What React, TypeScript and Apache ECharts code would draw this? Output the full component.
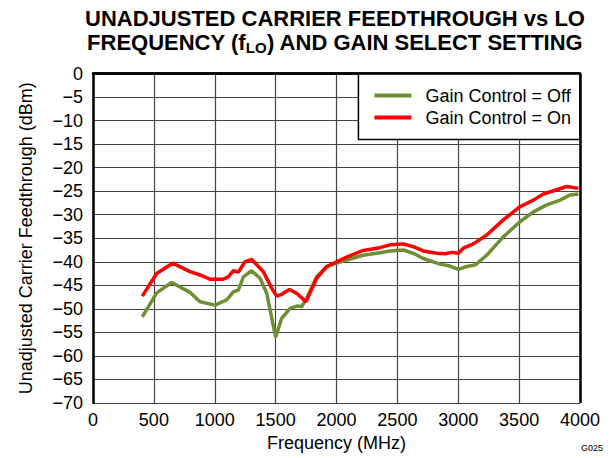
import React, { useEffect, useRef } from "react";
import * as echarts from "echarts";

const freqOff = [405, 523, 646, 797, 879, 1002, 1098, 1153, 1194, 1235, 1303, 1372, 1427, 1500, 1550, 1618, 1673, 1714, 1755, 1837, 1920, 2001, 2111, 2220, 2357, 2439, 2549, 2631, 2713, 2850, 2932, 3001, 3069, 3138, 3234, 3370, 3507, 3617, 3727, 3836, 3918, 3987];
const gainOff = [-51.7, -46.6, -44.4, -46.5, -48.5, -49.2, -48.1, -46.4, -46.0, -43.2, -41.9, -43.5, -46.7, -56.0, -52.0, -49.9, -49.4, -49.5, -47.8, -43.2, -41.0, -40.3, -39.4, -38.6, -38.1, -37.7, -37.5, -38.2, -39.3, -40.5, -40.9, -41.6, -41.0, -40.7, -38.6, -34.7, -31.5, -29.4, -27.9, -26.9, -25.8, -25.6];

const freqOn = [405, 523, 654, 797, 879, 961, 1070, 1111, 1153, 1194, 1248, 1303, 1399, 1467, 1509, 1550, 1613, 1673, 1749, 1837, 1920, 2001, 2083, 2220, 2357, 2439, 2549, 2631, 2713, 2823, 2891, 2946, 3001, 3042, 3124, 3234, 3370, 3507, 3617, 3699, 3809, 3891, 3987];
const gainOn = [-47.3, -42.5, -40.3, -42.1, -42.8, -43.7, -43.7, -43.2, -41.9, -42.2, -40.0, -39.5, -42.1, -45.6, -47.3, -46.9, -45.9, -46.7, -48.5, -43.5, -41.0, -40.0, -39.0, -37.6, -37.0, -36.4, -36.2, -36.8, -37.7, -38.2, -38.3, -38.0, -38.2, -37.1, -36.2, -34.3, -31.1, -28.3, -26.9, -25.6, -24.7, -24.0, -24.4];

const seriesNames = ["Gain Control = Off", "Gain Control = On"];

export default function App() {
  const ref = useRef<HTMLDivElement>(null);
  useEffect(() => {
    if (!ref.current) return;
    const chart = echarts.init(ref.current, null, { renderer: "svg" });
    const font = "Arial, 'Liberation Sans', sans-serif";
    chart.setOption({
      animation: false,
      backgroundColor: "#fff",
      textStyle: { fontFamily: font },
      title: {
        text: "UNADJUSTED CARRIER FEEDTHROUGH vs LO\nFREQUENCY (f{sub|LO}) AND GAIN SELECT SETTING",
        left: 330,
        top: 1,
        textAlign: "center",
        textStyle: {
          fontFamily: font,
          fontSize: 22,
          fontWeight: "bold",
          color: "#000",
          lineHeight: 24.5,
          rich: {
            sub: { fontFamily: font, fontSize: 15, fontWeight: "bold", color: "#000", verticalAlign: "bottom", lineHeight: 24.5, padding: [9, 0, 0, 0] },
          },
        },
      },
      graphic: [
        { type: "text", right: 8, bottom: 6, style: { text: "G025", fontSize: 9, fill: "#000", fontFamily: font } },
      ],
      legend: {
        orient: "vertical",
        right: 31,
        top: 73.5,
        backgroundColor: "#fff",
        borderColor: "#000",
        borderWidth: 1.5,
        padding: [13, 9, 13, 16],
        icon: "rect",
        itemWidth: 37,
        itemHeight: 4,
        itemGap: 4,
        textStyle: { fontSize: 18, lineHeight: 18, color: "#000", fontFamily: font, padding: [0, 0, 0, 9] },
        data: seriesNames,
      },
      grid: { left: 93, right: 31, top: 73.5, bottom: 55, containLabel: false },
      xAxis: {
        type: "value",
        min: 0,
        max: 4000,
        interval: 500,
        name: "Frequency (MHz)",
        nameLocation: "middle",
        nameGap: 28,
        nameTextStyle: { fontSize: 18, color: "#000", fontFamily: font },
        axisLine: { show: true, lineStyle: { color: "#000", width: 2.5 } },
        axisTick: { show: false },
        axisLabel: { fontSize: 18, color: "#000", margin: 8, fontFamily: font, formatter: (v: number) => String(v) },
        splitLine: { show: true, lineStyle: { color: "#444", width: 1.2 } },
      },
      yAxis: {
        type: "value",
        min: -70,
        max: 0,
        interval: 5,
        name: "Unadjusted Carrier Feedthrough (dBm)",
        nameLocation: "middle",
        nameGap: 58,
        nameTextStyle: { fontSize: 18, color: "#000", fontFamily: font },
        axisLine: { show: true, lineStyle: { color: "#000", width: 2.5 } },
        axisTick: { show: false },
        axisLabel: {
          fontSize: 18,
          color: "#000",
          margin: 10,
          fontFamily: font,
          formatter: (v: number) => (v < 0 ? "\u2212" + Math.abs(v) : String(v)),
        },
        splitLine: { show: true, lineStyle: { color: "#444", width: 1.2 } },
      },
      series: [
        {
          name: seriesNames[0],
          type: "line",
          symbol: "none",
          data: freqOff.map((f, i) => [f, gainOff[i]]),
          lineStyle: { color: "#6f8f35", width: 3.5 },
          itemStyle: { color: "#6f8f35" },
          z: 3,
        },
        {
          name: seriesNames[1],
          type: "line",
          symbol: "none",
          data: freqOn.map((f, i) => [f, gainOn[i]]),
          lineStyle: { color: "#ff0000", width: 3.5 },
          itemStyle: { color: "#ff0000" },
          z: 4,
        },
        {
          type: "line",
          silent: true,
          data: [],
          markLine: {
            silent: true,
            symbol: "none",
            label: { show: false },
            lineStyle: { color: "#000", width: 2.5, type: "solid" },
            data: [[{ coord: [4000, 0] }, { coord: [4000, -70] }], [{ coord: [0, 0] }, { coord: [4000, 0] }]],
          },
        },
      ],
    });
    return () => chart.dispose();
  }, []);
  return <div ref={ref} style={{ width: 611, height: 458, position: "absolute", left: 0, top: 0 }} />;
}
